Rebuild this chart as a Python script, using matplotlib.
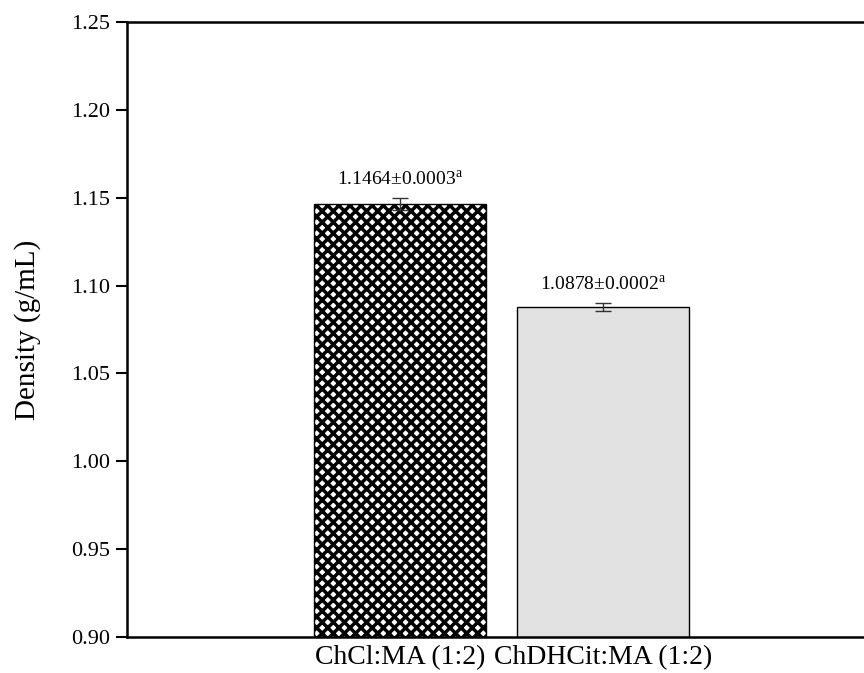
import matplotlib.pyplot as plt

plt.rcParams['font.family'] = ['Liberation Serif', 'DejaVu Serif']
plt.rcParams['mathtext.fontset'] = 'custom'
plt.rcParams['mathtext.rm'] = 'Liberation Serif'
plt.rcParams['hatch.linewidth'] = 2.5

categories = ["ChCl:MA (1:2)", "ChDHCit:MA (1:2)"]
density = [1.1464, 1.0878]
# visual size of the error bars as drawn
err = [0.0032, 0.0025]
labels = ["1.1464\u00b10.0003$^{\\mathrm{a}}$", "1.0878\u00b10.0002$^{\\mathrm{a}}$"]

fig = plt.figure(figsize=(8.64, 6.73), dpi=100)
ax = fig.add_axes([127 / 864, 1 - 637 / 673, 748 / 864, 615 / 673])

x = [0, 1]
bars = ax.bar(x, density, width=0.85, bottom=0, color=['white', '#e2e2e2'],
              edgecolor='black', linewidth=1.0)
bars[0].set_hatch('xxx')
ax.errorbar(x, density, yerr=err, fmt='none', ecolor='#333333',
            elinewidth=1.0, capsize=6, capthick=1.0)

for xi, d, e, lab in zip(x, density, err, labels):
    ax.text(xi, d + e + 0.005, lab, ha='center', va='bottom', fontsize=14)

ax.set_xlim(-1.345, 2.34)
ax.set_ylim(0.90, 1.25)
ax.set_yticks([0.90, 0.95, 1.00, 1.05, 1.10, 1.15, 1.20, 1.25])
ax.set_yticklabels(["%.2f" % v for v in ax.get_yticks()], fontsize=16)
ax.set_xticks(x)
ax.set_xticklabels(categories, fontsize=20)
ax.tick_params(axis='x', length=0, pad=6)
ax.tick_params(axis='y', direction='out', length=8, width=1.5, pad=4)
ax.set_ylabel("Density (g/mL)", fontsize=21, labelpad=22)
for s in ax.spines.values():
    s.set_linewidth(1.8)

fig.savefig("out.png", dpi=100)
